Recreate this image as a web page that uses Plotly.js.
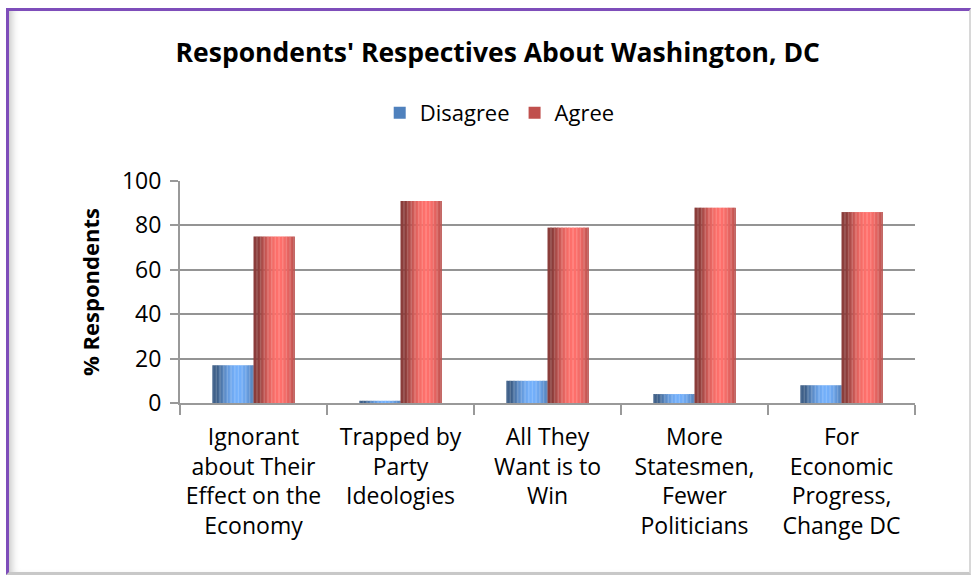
<!DOCTYPE html>
<html>
<head>
<meta charset="utf-8">
<script src="https://cdn.plot.ly/plotly-3.0.1.min.js"></script>
<style>
  html, body { margin:0; padding:0; background:#ffffff; }
  #wrap { position:relative; width:976px; height:578px; overflow:hidden; }
  #chart { position:absolute; left:0; top:0; width:976px; height:578px; }
  #frame { position:absolute; left:6px; top:8px; width:960px; height:561px;
           border-top:3px solid #7E4DBA; border-left:3px solid #7E4DBA;
           border-right:2px solid #d8d8d8; border-bottom:3px solid #c8c8c8;
           box-shadow: inset 8px 0 8px -6px #bdbdbd; pointer-events:none; }
</style>
</head>
<body>
<div id="wrap">
  <div id="chart"></div>
  <div id="frame"></div>
</div>
<script>
// ---- data ----
const categories = [
  "Ignorant<br>about Their<br>Effect on the<br>Economy",
  "Trapped by<br>Party<br>Ideologies",
  "All They<br>Want is to<br>Win",
  "More<br>Statesmen,<br>Fewer<br>Politicians",
  "For<br>Economic<br>Progress,<br>Change DC"
];
const disagree = [17, 1, 10, 4, 8];
const agree = [75, 91, 79, 88, 86];
const seriesNames = ["Disagree", "Agree"];
const yTicks = [0, 20, 40, 60, 80, 100];

// ---- cylinder shading (style only) ----
function shade(base, t) {
  const h = Math.cos((t - 0.62) * Math.PI * 1.0);
  const k = 0.6 + 0.5 * Math.max(h, 0);
  return 'rgb(' + base.map(c => Math.min(255, Math.round(c * k))).join(',') + ')';
}
const N = 30;
const barW = 0.28;
const traces = [];
function addCylinder(vals, name, base, legendColor, off) {
  for (let i = 0; i < N; i++) {
    const t = (i + 0.5) / N;
    traces.push({
      type: 'bar', x: categories, y: vals, name: name,
      width: barW / N * 1.15, offset: off + i * barW / N,
      marker: { color: shade(base, t), line: { width: 0 } },
      showlegend: false, hoverinfo: 'skip'
    });
  }
  traces.push({
    type: 'bar', x: categories, y: vals.map(() => null), name: name,
    marker: { color: legendColor }, showlegend: true
  });
}
addCylinder(disagree, seriesNames[0], [105, 160, 228], '#4F81BD', -barW);
addCylinder(agree, seriesNames[1], [232, 102, 98], '#C0504D', 0);

const layout = {
  width: 976, height: 578,
  paper_bgcolor: '#ffffff', plot_bgcolor: '#ffffff',
  margin: { l: 180, r: 61, t: 181, b: 175 },
  barmode: 'overlay',
  font: { family: 'Open Sans, Noto Sans, sans-serif', color: '#000000' },
  title: {
    text: "<b>Respondents' Respectives About Washington, DC</b>",
    font: { size: 26.5, family: 'Open Sans, Noto Sans, sans-serif', color: '#000' },
    x: 0.51, xref: 'container', xanchor: 'center',
    y: 1 - 53 / 578, yref: 'container', yanchor: 'middle'
  },
  showlegend: true,
  legend: {
    orientation: 'h', xref: 'container', yref: 'container',
    x: 0.512, xanchor: 'center', y: 1 - 113 / 578, yanchor: 'middle',
    font: { size: 22 }, traceorder: 'normal', itemwidth: 30
  },
  xaxis: {
    type: 'category',
    showline: true, linecolor: '#999999', linewidth: 2,
    ticks: 'outside', tickson: 'boundaries', ticklen: 10, tickcolor: '#999999', tickwidth: 2,
    tickfont: { size: 23 }, showgrid: false, tickangle: 0,
    ticklabelstandoff: 12,
    range: [-0.5, 4.5]
  },
  yaxis: {
    range: [0, 100], tickvals: yTicks, ticktext: yTicks.map(String),
    showline: true, linecolor: '#999999', linewidth: 2,
    ticks: 'outside', ticklen: 8, tickcolor: '#999999', tickwidth: 2,
    showgrid: true, gridcolor: '#949494', gridwidth: 2,
    zeroline: false,
    tickfont: { size: 23 },
    ticklabelstandoff: 4,
    title: { text: '<b>% Respondents</b>', font: { size: 22 }, standoff: 16 }
  }
};

Plotly.newPlot('chart', traces, layout, { displayModeBar: false, staticPlot: true });
</script>
</body>
</html>
